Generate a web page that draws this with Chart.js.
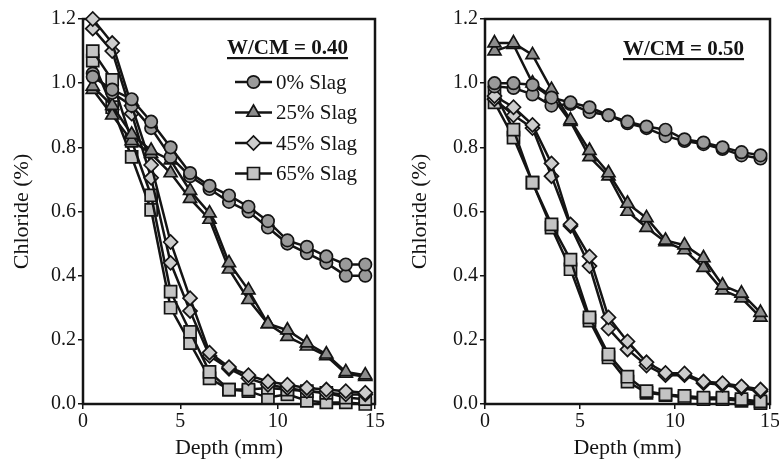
<!DOCTYPE html>
<html><head><meta charset="utf-8">
<script src="https://cdn.jsdelivr.net/npm/chart.js@4.4.1/dist/chart.umd.min.js"></script>
<style>
html,body{margin:0;padding:0;background:#fff;overflow:hidden;width:779px;height:463px}
#wrap{position:relative;width:779px;height:463px;overflow:hidden;background:#fff}
canvas{position:absolute;top:0}
</style></head><body>
<div id="wrap">
<canvas id="c1" width="390" height="463" style="left:0px"></canvas>
<canvas id="c2" width="393" height="463" style="left:388px"></canvas>
</div>
<script>
// ---------- data ----------
const depth = [0.5, 1.5, 2.5, 3.5, 4.5, 5.5, 6.5, 7.5, 8.5, 9.5, 10.5, 11.5, 12.5, 13.5, 14.5];
const seriesNames = ['0% Slag', '25% Slag', '45% Slag', '65% Slag'];
const xTickValues = [0, 5, 10, 15];
const yTickValues = [0, 0.2, 0.4, 0.6, 0.8, 1.0, 1.2];
const panelTitles = ['W/CM = 0.40', 'W/CM = 0.50'];

// W/CM = 0.40 (two replicate profiles per mix)
const wc40_slag0_a  = [1.02, 0.98, 0.95, 0.88, 0.80, 0.72, 0.68, 0.65, 0.615, 0.57, 0.51, 0.49, 0.46, 0.435, 0.435];
const wc40_slag0_b  = [1.03, 0.97, 0.93, 0.86, 0.77, 0.71, 0.67, 0.63, 0.60, 0.55, 0.50, 0.47, 0.44, 0.40, 0.40];
const wc40_slag25_a = [0.99, 0.93, 0.84, 0.79, 0.76, 0.665, 0.595, 0.44, 0.355, 0.25, 0.23, 0.19, 0.155, 0.10, 0.09];
const wc40_slag25_b = [0.98, 0.90, 0.82, 0.78, 0.72, 0.64, 0.575, 0.42, 0.325, 0.25, 0.21, 0.18, 0.15, 0.095, 0.085];
const wc40_slag45_a = [1.20, 1.125, 0.93, 0.745, 0.505, 0.33, 0.16, 0.115, 0.09, 0.07, 0.06, 0.05, 0.045, 0.04, 0.035];
const wc40_slag45_b = [1.17, 1.10, 0.905, 0.705, 0.44, 0.29, 0.15, 0.11, 0.08, 0.06, 0.05, 0.04, 0.035, 0.03, 0.03];
const wc40_slag65_a = [1.10, 1.01, 0.82, 0.65, 0.35, 0.225, 0.10, 0.045, 0.045, 0.05, 0.045, 0.04, 0.035, 0.02, 0.015];
const wc40_slag65_b = [1.07, 0.925, 0.77, 0.605, 0.30, 0.19, 0.08, 0.045, 0.04, 0.02, 0.03, 0.01, 0.005, 0.005, 0.0];

// W/CM = 0.50
const wc50_slag0_a  = [1.00, 1.00, 0.995, 0.955, 0.94, 0.925, 0.90, 0.88, 0.865, 0.855, 0.825, 0.815, 0.80, 0.785, 0.775];
const wc50_slag0_b  = [0.99, 0.985, 0.965, 0.93, 0.935, 0.91, 0.90, 0.875, 0.86, 0.835, 0.82, 0.81, 0.795, 0.775, 0.765];
const wc50_slag25_a = [1.125, 1.125, 1.088, 0.98, 0.885, 0.79, 0.72, 0.625, 0.58, 0.51, 0.495, 0.455, 0.37, 0.345, 0.285];
const wc50_slag25_b = [1.10, 1.12, 1.00, 0.96, 0.88, 0.77, 0.71, 0.60, 0.55, 0.505, 0.48, 0.425, 0.355, 0.33, 0.27];
const wc50_slag45_a = [0.96, 0.925, 0.87, 0.75, 0.56, 0.46, 0.27, 0.195, 0.13, 0.097, 0.095, 0.07, 0.065, 0.055, 0.045];
const wc50_slag45_b = [0.95, 0.90, 0.86, 0.71, 0.555, 0.43, 0.235, 0.17, 0.12, 0.09, 0.09, 0.065, 0.06, 0.05, 0.04];
const wc50_slag65_a = [0.97, 0.855, 0.69, 0.56, 0.45, 0.27, 0.155, 0.085, 0.04, 0.03, 0.025, 0.02, 0.02, 0.015, 0.008];
const wc50_slag65_b = [0.94, 0.83, 0.69, 0.55, 0.42, 0.26, 0.145, 0.07, 0.035, 0.028, 0.02, 0.015, 0.015, 0.01, 0.003];

// ---------- styling ----------
const FONT = "'Liberation Serif', 'Times New Roman', serif";
const INK = '#141414';
const markerStyles = [
  {pointStyle: 'circle',   radius: 6.2, fill: '#9a9a9a'},
  {pointStyle: 'triangle', radius: 7.5, fill: '#8c8c8c'},
  {pointStyle: 'rectRot',  radius: 7,   fill: '#cdcdcd'},
  {pointStyle: 'rect',     radius: 8.5, fill: '#c4c4c4'}
];

function makeDatasets(groups) {
  const out = [];
  groups.forEach((pair, si) => {
    const st = markerStyles[si];
    pair.forEach((vals, ri) => {
      out.push({
        label: seriesNames[si] + (ri ? ' (replicate)' : ''),
        data: vals.map((v, i) => ({x: depth[i], y: v})),
        borderColor: INK,
        borderWidth: 2.5,
        pointStyle: st.pointStyle,
        pointRadius: st.radius,
        pointHoverRadius: st.radius,
        pointBackgroundColor: st.fill,
        pointBorderColor: INK,
        pointBorderWidth: 1.7,
        tension: 0,
        fill: false,
        clip: false
      });
    });
  });
  return out;
}

const frameAndText = {
  id: 'frameAndText',
  beforeDatasetsDraw(chart) {
    const {ctx, chartArea: a} = chart;
    ctx.save();
    ctx.strokeStyle = INK;
    ctx.lineWidth = 2.5;
    ctx.strokeRect(a.left, a.top, a.right - a.left, a.bottom - a.top);
    ctx.restore();
  },
  afterDraw(chart, args, opts) {
    const ctx = chart.ctx;
    ctx.save();
    // panel heading (bold, underlined)
    ctx.font = 'bold 21px ' + FONT;
    ctx.fillStyle = INK;
    ctx.textBaseline = 'alphabetic';
    ctx.textAlign = 'left';
    ctx.fillText(opts.title, opts.tx, opts.ty);
    const w = ctx.measureText(opts.title).width;
    ctx.fillRect(opts.tx, opts.ty + 3, w, 2.2);
    // legend
    if (opts.legend) {
      const L = opts.legend;
      seriesNames.forEach((name, i) => {
        const y = L.y0 + i * L.dy;
        const st = markerStyles[i];
        ctx.strokeStyle = INK;
        ctx.lineWidth = 2.5;
        ctx.beginPath();
        ctx.moveTo(L.x0, y);
        ctx.lineTo(L.x0 + L.len, y);
        ctx.stroke();
        ctx.fillStyle = st.fill;
        ctx.strokeStyle = INK;
        ctx.lineWidth = 1.7;
        Chart.helpers.drawPoint(ctx, {pointStyle: st.pointStyle, radius: st.radius, borderWidth: 1.7, rotation: 0}, L.x0 + L.len / 2, y);
        ctx.fillStyle = INK;
        ctx.font = '21px ' + FONT;
        ctx.textBaseline = 'middle';
        ctx.fillText(name, L.x0 + L.len + 4, y + 1);
      });
    }
    ctx.restore();
  }
};

function makeScales(yWidth, yTitlePad) {
  return {
    x: {
      type: 'linear', min: 0, max: 15,
      afterBuildTicks: s => { s.ticks = xTickValues.map(v => ({value: v})); },
      afterFit: s => { s.height = 59; },
      ticks: {font: {family: FONT, size: 20}, color: INK, padding: 1, maxRotation: 0, autoSkip: false,
              callback: v => String(v)},
      grid: {drawOnChartArea: false, drawTicks: true, tickLength: 5, color: INK, lineWidth: 1.5},
      border: {display: false},
      title: {display: true, text: 'Depth (mm)', font: {family: FONT, size: 22}, color: INK,
              padding: {top: 0, bottom: 2}}
    },
    y: {
      type: 'linear', min: 0, max: 1.2,
      afterBuildTicks: s => { s.ticks = yTickValues.map(v => ({value: v})); },
      afterFit: s => { s.width = yWidth; },
      ticks: {font: {family: FONT, size: 20}, color: INK, padding: 2, autoSkip: false,
              callback: v => Number(v).toFixed(1)},
      grid: {drawOnChartArea: false, drawTicks: true, tickLength: 5, color: INK, lineWidth: 1.5},
      border: {display: false},
      title: {display: true, text: 'Chloride (%)', font: {family: FONT, size: 22}, color: INK,
              padding: {top: yTitlePad, bottom: 0}}
    }
  };
}

function makeChart(id, groups, yWidth, yTitlePad, rightPad, textOpts) {
  return new Chart(document.getElementById(id), {
    type: 'line',
    data: {datasets: makeDatasets(groups)},
    options: {
      responsive: false,
      animation: false,
      devicePixelRatio: 1,
      layout: {padding: {left: 0, right: rightPad, top: 19, bottom: 0}},
      scales: makeScales(yWidth, yTitlePad),
      plugins: {legend: {display: false}, tooltip: {enabled: false}, frameAndText: textOpts}
    },
    plugins: [frameAndText]
  });
}

makeChart('c1', [
  [wc40_slag0_a, wc40_slag0_b],
  [wc40_slag25_a, wc40_slag25_b],
  [wc40_slag45_a, wc40_slag45_b],
  [wc40_slag65_a, wc40_slag65_b]
], 83, 9, 15, {title: panelTitles[0], tx: 227, ty: 54, legend: {x0: 235, len: 37, y0: 82, dy: 30.5}});

makeChart('c2', [
  [wc50_slag0_a, wc50_slag0_b],
  [wc50_slag25_a, wc50_slag25_b],
  [wc50_slag45_a, wc50_slag45_b],
  [wc50_slag65_a, wc50_slag65_b]
], 97, 19, 10, {title: panelTitles[1], tx: 623 - 388, ty: 55, legend: null});
</script>
</body></html>
